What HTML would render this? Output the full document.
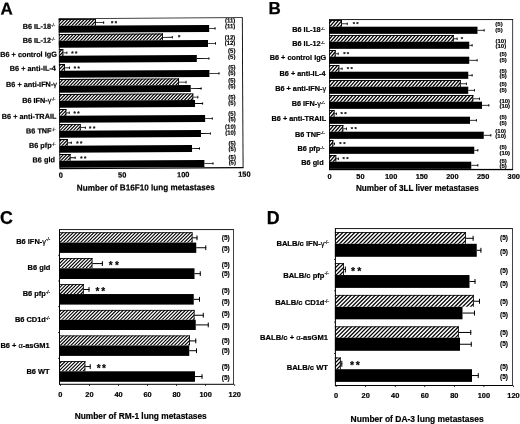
<!DOCTYPE html>
<html lang="en">
<head>
<meta charset="utf-8">
<title>Figure: tumor metastases in gene-targeted and antibody-treated mice</title>
<style>
html,body{margin:0;padding:0;background:#fff;}
body{width:520px;height:424px;overflow:hidden;}
svg{display:block;font-family:'Liberation Sans', sans-serif;font-weight:bold;fill:#000;}
text{stroke:#000;stroke-width:0.2px;}
text.n{stroke-width:0.15px;}
text.L{stroke-width:0.25px;}
text.st{stroke-width:0.15px;}
tspan.g{font-weight:normal;}
tspan.s{font-weight:normal;}
</style>
</head>
<body>
<svg width="520" height="424" viewBox="0 0 520 424">
<defs>

</defs>
<rect width="520" height="424" fill="#fff"/>
<g id="panel-A" transform="rotate(-0.3 151 93)">
<clipPath id="chA"><rect x="59.1" y="18.6" width="37.15" height="6.6"/><rect x="59.1" y="33.6" width="104.15" height="6.6"/><rect x="59.1" y="48.6" width="4.4" height="6.6"/><rect x="59.1" y="63.6" width="5.9" height="6.6"/><rect x="59.1" y="78.6" width="119.9" height="6.6"/><rect x="59.1" y="93.6" width="134.15" height="6.6"/><rect x="59.1" y="108.6" width="7.15" height="6.6"/><rect x="59.1" y="123.6" width="21.4" height="6.6"/><rect x="59.1" y="138.6" width="8.4" height="6.6"/><rect x="59.1" y="153.6" width="11.1" height="6.6"/></clipPath><path clip-path="url(#chA)" fill="none" stroke="#000" stroke-width="1.19" d="M-85.71 168.1l144.81 -149.95M-82.41 168.1l144.81 -149.95M-79.11 168.1l144.81 -149.95M-75.81 168.1l144.81 -149.95M-72.51 168.1l144.81 -149.95M-69.21 168.1l144.81 -149.95M-65.91 168.1l144.81 -149.95M-62.61 168.1l144.81 -149.95M-59.31 168.1l144.81 -149.95M-56.01 168.1l144.81 -149.95M-52.71 168.1l144.81 -149.95M-49.41 168.1l144.81 -149.95M-46.11 168.1l144.81 -149.95M-42.81 168.1l144.81 -149.95M-39.51 168.1l144.81 -149.95M-36.21 168.1l144.81 -149.95M-32.91 168.1l144.81 -149.95M-29.61 168.1l144.81 -149.95M-26.31 168.1l144.81 -149.95M-23.01 168.1l144.81 -149.95M-19.71 168.1l144.81 -149.95M-16.41 168.1l144.81 -149.95M-13.11 168.1l144.81 -149.95M-9.81 168.1l144.81 -149.95M-6.51 168.1l144.81 -149.95M-3.21 168.1l144.81 -149.95M0.09 168.1l144.81 -149.95M3.39 168.1l144.81 -149.95M6.69 168.1l144.81 -149.95M9.99 168.1l144.81 -149.95M13.29 168.1l144.81 -149.95M16.59 168.1l144.81 -149.95M19.89 168.1l144.81 -149.95M23.19 168.1l144.81 -149.95M26.49 168.1l144.81 -149.95M29.79 168.1l144.81 -149.95M33.09 168.1l144.81 -149.95M36.39 168.1l144.81 -149.95M39.69 168.1l144.81 -149.95M42.99 168.1l144.81 -149.95M46.29 168.1l144.81 -149.95M49.59 168.1l144.81 -149.95M52.89 168.1l144.81 -149.95M56.19 168.1l144.81 -149.95M59.49 168.1l144.81 -149.95M62.79 168.1l144.81 -149.95M66.09 168.1l144.81 -149.95M69.39 168.1l144.81 -149.95M72.69 168.1l144.81 -149.95M75.99 168.1l144.81 -149.95M79.29 168.1l144.81 -149.95M82.59 168.1l144.81 -149.95M85.89 168.1l144.81 -149.95M89.19 168.1l144.81 -149.95M92.49 168.1l144.81 -149.95M95.79 168.1l144.81 -149.95M99.09 168.1l144.81 -149.95M102.39 168.1l144.81 -149.95M105.69 168.1l144.81 -149.95M108.99 168.1l144.81 -149.95M112.29 168.1l144.81 -149.95M115.59 168.1l144.81 -149.95M118.89 168.1l144.81 -149.95M122.19 168.1l144.81 -149.95M125.49 168.1l144.81 -149.95M128.79 168.1l144.81 -149.95M132.09 168.1l144.81 -149.95M135.39 168.1l144.81 -149.95M138.69 168.1l144.81 -149.95M141.99 168.1l144.81 -149.95M145.29 168.1l144.81 -149.95M148.59 168.1l144.81 -149.95M151.89 168.1l144.81 -149.95M155.19 168.1l144.81 -149.95M158.49 168.1l144.81 -149.95M161.79 168.1l144.81 -149.95M165.09 168.1l144.81 -149.95M168.39 168.1l144.81 -149.95M171.69 168.1l144.81 -149.95M174.99 168.1l144.81 -149.95M178.29 168.1l144.81 -149.95M181.59 168.1l144.81 -149.95M184.89 168.1l144.81 -149.95M188.19 168.1l144.81 -149.95M191.49 168.1l144.81 -149.95"/>
<rect x="59.1" y="17.7" width="184" height="0.9"/>
<rect x="242.25" y="18.15" width="0.9" height="149.95"/>
<rect x="59.1" y="167.45" width="184" height="1.3"/>
<rect x="59.1" y="18.15" width="0.8" height="149.95"/>
<text x="0.9" y="13.7" font-size="17" class="L">A</text>
<rect x="59.1" y="18.6" width="37.15" height="0.9"/>
<rect x="95.35" y="18.6" width="0.9" height="6.6"/>
<rect x="59.1" y="25.2" width="150.4" height="7.1"/>
<rect x="96.25" y="21.95" width="8.25" height="0.8"/>
<rect x="103.7" y="21.05" width="0.8" height="2.6"/>
<rect x="209.5" y="28.35" width="6.25" height="0.8"/>
<rect x="214.95" y="27.45" width="0.8" height="2.6"/>
<text x="112.5" y="25.15" font-size="6" text-anchor="middle" class="st">*</text>
<text x="116.4" y="25.15" font-size="6" text-anchor="middle" class="st">*</text>
<text x="235.6" y="22.9" font-size="6" text-anchor="end" class="n">(11)</text>
<text x="235.6" y="28.7" font-size="6" text-anchor="end" class="n">(11)</text>
<text x="55.5" y="28.3" font-size="7.3" text-anchor="end">B6 IL-18<tspan class="s" font-size="4.38" dy="-2.19">-/-</tspan></text>
<rect x="59.1" y="33.6" width="104.15" height="0.9"/>
<rect x="162.35" y="33.6" width="0.9" height="6.6"/>
<rect x="59.1" y="40.2" width="149.15" height="7.1"/>
<rect x="163.25" y="36.95" width="9.75" height="0.8"/>
<rect x="172.2" y="36.05" width="0.8" height="2.6"/>
<rect x="208.25" y="43.35" width="8" height="0.8"/>
<rect x="215.45" y="42.45" width="0.8" height="2.6"/>
<text x="179.5" y="39.35" font-size="6" text-anchor="middle" class="st">*</text>
<text x="235.6" y="39.9" font-size="6" text-anchor="end" class="n">(12)</text>
<text x="235.6" y="45.4" font-size="6" text-anchor="end" class="n">(12)</text>
<text x="55.5" y="42.3" font-size="7.3" text-anchor="end">B6 IL-12<tspan class="s" font-size="4.38" dy="-2.19">-/-</tspan></text>
<rect x="59.1" y="48.6" width="4.4" height="0.9"/>
<rect x="62.6" y="48.6" width="0.9" height="6.6"/>
<rect x="59.1" y="55.2" width="137.9" height="7.1"/>
<rect x="63.5" y="51.95" width="4" height="0.8"/>
<rect x="66.7" y="51.05" width="0.8" height="2.6"/>
<rect x="197" y="58.35" width="12.5" height="0.8"/>
<rect x="208.7" y="57.45" width="0.8" height="2.6"/>
<text x="72.5" y="55.15" font-size="6" text-anchor="middle" class="st">*</text>
<text x="76.4" y="55.15" font-size="6" text-anchor="middle" class="st">*</text>
<text x="235.6" y="53.2" font-size="6" text-anchor="end" class="n">(5)</text>
<text x="235.6" y="59.2" font-size="6" text-anchor="end" class="n">(5)</text>
<text x="57" y="56.3" font-size="7.3" text-anchor="end">B6 + control IgG</text>
<rect x="59.1" y="63.6" width="5.9" height="0.9"/>
<rect x="64.1" y="63.6" width="0.9" height="6.6"/>
<rect x="59.1" y="70.2" width="150.4" height="7.1"/>
<rect x="65" y="66.95" width="5" height="0.8"/>
<rect x="69.2" y="66.05" width="0.8" height="2.6"/>
<rect x="209.5" y="73.35" width="10" height="0.8"/>
<rect x="218.7" y="72.45" width="0.8" height="2.6"/>
<text x="75" y="70.15" font-size="6" text-anchor="middle" class="st">*</text>
<text x="78.9" y="70.15" font-size="6" text-anchor="middle" class="st">*</text>
<text x="235.6" y="69.8" font-size="6" text-anchor="end" class="n">(5)</text>
<text x="235.6" y="75.4" font-size="6" text-anchor="end" class="n">(5)</text>
<text x="56" y="70.3" font-size="7.3" text-anchor="end">B6 + anti-IL-4</text>
<rect x="59.1" y="78.6" width="119.9" height="0.9"/>
<rect x="178.1" y="78.6" width="0.9" height="6.6"/>
<rect x="59.1" y="85.2" width="131.65" height="7.1"/>
<rect x="179" y="81.95" width="7.5" height="0.8"/>
<rect x="185.7" y="81.05" width="0.8" height="2.6"/>
<rect x="190.75" y="88.35" width="10.75" height="0.8"/>
<rect x="200.7" y="87.45" width="0.8" height="2.6"/>
<text x="235.6" y="82.9" font-size="6" text-anchor="end" class="n">(5)</text>
<text x="235.6" y="88.55" font-size="6" text-anchor="end" class="n">(5)</text>
<text x="57" y="86.3" font-size="7.3" text-anchor="end">B6 + anti-IFN-<tspan class="g">γ</tspan></text>
<rect x="59.1" y="93.6" width="134.15" height="0.9"/>
<rect x="192.35" y="93.6" width="0.9" height="6.6"/>
<rect x="59.1" y="100.2" width="135.9" height="7.1"/>
<rect x="193.25" y="96.95" width="5" height="0.8"/>
<rect x="197.45" y="96.05" width="0.8" height="2.6"/>
<rect x="195" y="103.35" width="8" height="0.8"/>
<rect x="202.2" y="102.45" width="0.8" height="2.6"/>
<text x="235.6" y="99.55" font-size="6" text-anchor="end" class="n">(5)</text>
<text x="235.6" y="105.4" font-size="6" text-anchor="end" class="n">(5)</text>
<text x="55.5" y="102.3" font-size="7.3" text-anchor="end">B6 IFN-<tspan class="g">γ</tspan><tspan class="s" font-size="4.38" dy="-2.19">-/-</tspan></text>
<rect x="59.1" y="108.6" width="7.15" height="0.9"/>
<rect x="65.35" y="108.6" width="0.9" height="6.6"/>
<rect x="59.1" y="115.2" width="145.9" height="7.1"/>
<rect x="66.25" y="111.95" width="3.25" height="0.8"/>
<rect x="68.7" y="111.05" width="0.8" height="2.6"/>
<rect x="205" y="118.35" width="7.5" height="0.8"/>
<rect x="211.7" y="117.45" width="0.8" height="2.6"/>
<text x="74.5" y="115.15" font-size="6" text-anchor="middle" class="st">*</text>
<text x="78.4" y="115.15" font-size="6" text-anchor="middle" class="st">*</text>
<text x="235.6" y="116.05" font-size="6" text-anchor="end" class="n">(5)</text>
<text x="235.6" y="121.7" font-size="6" text-anchor="end" class="n">(5)</text>
<text x="56.25" y="118.3" font-size="7.3" text-anchor="end">B6 + anti-TRAIL</text>
<rect x="59.1" y="123.6" width="21.4" height="0.9"/>
<rect x="79.6" y="123.6" width="0.9" height="6.6"/>
<rect x="59.1" y="130.2" width="141.65" height="7.1"/>
<rect x="80.5" y="126.95" width="5" height="0.8"/>
<rect x="84.7" y="126.05" width="0.8" height="2.6"/>
<rect x="200.75" y="133.35" width="9.75" height="0.8"/>
<rect x="209.7" y="132.45" width="0.8" height="2.6"/>
<text x="90" y="130.15" font-size="6" text-anchor="middle" class="st">*</text>
<text x="93.9" y="130.15" font-size="6" text-anchor="middle" class="st">*</text>
<text x="235.6" y="129.2" font-size="6" text-anchor="end" class="n">(10)</text>
<text x="235.6" y="135.05" font-size="6" text-anchor="end" class="n">(10)</text>
<text x="55.5" y="132.8" font-size="7.3" text-anchor="end">B6 TNF<tspan class="s" font-size="4.38" dy="-2.19">-/-</tspan></text>
<rect x="59.1" y="138.6" width="8.4" height="0.9"/>
<rect x="66.6" y="138.6" width="0.9" height="6.6"/>
<rect x="59.1" y="145.2" width="132.65" height="7.1"/>
<rect x="67.5" y="141.95" width="3.9" height="0.8"/>
<rect x="70.6" y="141.05" width="0.8" height="2.6"/>
<rect x="191.75" y="148.35" width="7.75" height="0.8"/>
<rect x="198.7" y="147.45" width="0.8" height="2.6"/>
<text x="77.2" y="145.15" font-size="6" text-anchor="middle" class="st">*</text>
<text x="81" y="145.15" font-size="6" text-anchor="middle" class="st">*</text>
<text x="235.6" y="145.8" font-size="6" text-anchor="end" class="n">(5)</text>
<text x="235.6" y="151.4" font-size="6" text-anchor="end" class="n">(5)</text>
<text x="55.5" y="147.3" font-size="7.3" text-anchor="end">B6 pfp<tspan class="s" font-size="4.38" dy="-2.19">-/-</tspan></text>
<rect x="59.1" y="153.6" width="11.1" height="0.9"/>
<rect x="69.3" y="153.6" width="0.9" height="6.6"/>
<rect x="59.1" y="160.2" width="144.9" height="7.1"/>
<rect x="70.2" y="156.95" width="5" height="0.8"/>
<rect x="74.4" y="156.05" width="0.8" height="2.6"/>
<rect x="204" y="163.35" width="9" height="0.8"/>
<rect x="212.2" y="162.45" width="0.8" height="2.6"/>
<text x="81" y="160.15" font-size="6" text-anchor="middle" class="st">*</text>
<text x="84.9" y="160.15" font-size="6" text-anchor="middle" class="st">*</text>
<text x="235.6" y="159.55" font-size="6" text-anchor="end" class="n">(5)</text>
<text x="235.6" y="164.9" font-size="6" text-anchor="end" class="n">(5)</text>
<text x="54.5" y="161.8" font-size="7.3" text-anchor="end">B6 gld</text>
<text x="60.4" y="177.3" font-size="7.4" text-anchor="middle">0</text>
<text x="121.7" y="177.3" font-size="7.4" text-anchor="middle">50</text>
<text x="182.8" y="177.3" font-size="7.4" text-anchor="middle">100</text>
<text x="243.9" y="177.3" font-size="7.4" text-anchor="middle">150</text>
<text x="76.3" y="190.4" font-size="8.6" textLength="138.1" lengthAdjust="spacingAndGlyphs">Number of B16F10 lung metastases</text>
</g>
<g id="panel-B">
<clipPath id="chB"><rect x="329" y="20" width="12.9" height="6.7"/><rect x="329" y="35" width="124.75" height="6.7"/><rect x="329" y="50" width="6.6" height="6.7"/><rect x="329" y="65" width="10.25" height="6.7"/><rect x="329" y="80" width="131.75" height="6.7"/><rect x="329" y="95" width="144.25" height="6.7"/><rect x="329" y="110" width="5.5" height="6.7"/><rect x="329" y="125" width="14.25" height="6.7"/><rect x="329" y="140" width="4.25" height="6.7"/><rect x="329" y="155" width="7.25" height="6.7"/></clipPath><path clip-path="url(#chB)" fill="none" stroke="#000" stroke-width="1.3" d="M198.65 169.55l130.35 -149.95M202.1 169.55l130.35 -149.95M205.55 169.55l130.35 -149.95M209 169.55l130.35 -149.95M212.45 169.55l130.35 -149.95M215.9 169.55l130.35 -149.95M219.35 169.55l130.35 -149.95M222.8 169.55l130.35 -149.95M226.25 169.55l130.35 -149.95M229.7 169.55l130.35 -149.95M233.15 169.55l130.35 -149.95M236.6 169.55l130.35 -149.95M240.05 169.55l130.35 -149.95M243.5 169.55l130.35 -149.95M246.95 169.55l130.35 -149.95M250.4 169.55l130.35 -149.95M253.85 169.55l130.35 -149.95M257.3 169.55l130.35 -149.95M260.75 169.55l130.35 -149.95M264.2 169.55l130.35 -149.95M267.65 169.55l130.35 -149.95M271.1 169.55l130.35 -149.95M274.55 169.55l130.35 -149.95M278 169.55l130.35 -149.95M281.45 169.55l130.35 -149.95M284.9 169.55l130.35 -149.95M288.35 169.55l130.35 -149.95M291.8 169.55l130.35 -149.95M295.25 169.55l130.35 -149.95M298.7 169.55l130.35 -149.95M302.15 169.55l130.35 -149.95M305.6 169.55l130.35 -149.95M309.05 169.55l130.35 -149.95M312.5 169.55l130.35 -149.95M315.95 169.55l130.35 -149.95M319.4 169.55l130.35 -149.95M322.85 169.55l130.35 -149.95M326.3 169.55l130.35 -149.95M329.75 169.55l130.35 -149.95M333.2 169.55l130.35 -149.95M336.65 169.55l130.35 -149.95M340.1 169.55l130.35 -149.95M343.55 169.55l130.35 -149.95M347 169.55l130.35 -149.95M350.45 169.55l130.35 -149.95M353.9 169.55l130.35 -149.95M357.35 169.55l130.35 -149.95M360.8 169.55l130.35 -149.95M364.25 169.55l130.35 -149.95M367.7 169.55l130.35 -149.95M371.15 169.55l130.35 -149.95M374.6 169.55l130.35 -149.95M378.05 169.55l130.35 -149.95M381.5 169.55l130.35 -149.95M384.95 169.55l130.35 -149.95M388.4 169.55l130.35 -149.95M391.85 169.55l130.35 -149.95M395.3 169.55l130.35 -149.95M398.75 169.55l130.35 -149.95M402.2 169.55l130.35 -149.95M405.65 169.55l130.35 -149.95M409.1 169.55l130.35 -149.95M412.55 169.55l130.35 -149.95M416 169.55l130.35 -149.95M419.45 169.55l130.35 -149.95M422.9 169.55l130.35 -149.95M426.35 169.55l130.35 -149.95M429.8 169.55l130.35 -149.95M433.25 169.55l130.35 -149.95M436.7 169.55l130.35 -149.95M440.15 169.55l130.35 -149.95M443.6 169.55l130.35 -149.95M447.05 169.55l130.35 -149.95M450.5 169.55l130.35 -149.95M453.95 169.55l130.35 -149.95M457.4 169.55l130.35 -149.95M460.85 169.55l130.35 -149.95M464.3 169.55l130.35 -149.95M467.75 169.55l130.35 -149.95M471.2 169.55l130.35 -149.95"/>
<rect x="329" y="19.15" width="184.1" height="0.9"/>
<rect x="512.33" y="19.6" width="0.75" height="149.95"/>
<rect x="329" y="168.9" width="184.1" height="1.3"/>
<rect x="329" y="19.6" width="0.8" height="149.95"/>
<text x="268.4" y="13.7" font-size="17" class="L">B</text>
<rect x="329" y="20" width="12.9" height="0.9"/>
<rect x="341" y="20" width="0.9" height="6.7"/>
<rect x="329" y="26.7" width="148.5" height="7.15"/>
<rect x="341.9" y="23.4" width="5.7" height="0.8"/>
<rect x="346.8" y="22.5" width="0.8" height="2.6"/>
<rect x="477.5" y="29.88" width="7" height="0.8"/>
<rect x="483.7" y="28.97" width="0.8" height="2.6"/>
<text x="353.8" y="26.1" font-size="6" text-anchor="middle" class="st">*</text>
<text x="357.4" y="26.1" font-size="6" text-anchor="middle" class="st">*</text>
<text x="495.3" y="26.3" font-size="6" class="n">(5)</text>
<text x="495.3" y="31.9" font-size="6" class="n">(5)</text>
<text x="324.8" y="31.8" font-size="7.3" text-anchor="end">B6 IL-18<tspan class="s" font-size="4.38" dy="-2.19">-/-</tspan></text>
<rect x="329" y="35" width="124.75" height="0.9"/>
<rect x="452.85" y="35" width="0.9" height="6.7"/>
<rect x="329" y="41.7" width="140.25" height="7.15"/>
<rect x="453.75" y="38.4" width="3.75" height="0.8"/>
<rect x="456.7" y="37.5" width="0.8" height="2.6"/>
<rect x="469.25" y="44.88" width="3.25" height="0.8"/>
<rect x="471.7" y="43.98" width="0.8" height="2.6"/>
<text x="462" y="41.1" font-size="6" text-anchor="middle" class="st">*</text>
<text x="495.5" y="42.5" font-size="6" class="n">(10)</text>
<text x="495.5" y="48.15" font-size="6" class="n">(10)</text>
<text x="324.8" y="45.8" font-size="7.3" text-anchor="end">B6 IL-12<tspan class="s" font-size="4.38" dy="-2.19">-/-</tspan></text>
<rect x="329" y="50" width="6.6" height="0.9"/>
<rect x="334.7" y="50" width="0.9" height="6.7"/>
<rect x="329" y="56.7" width="140.25" height="7.15"/>
<rect x="335.6" y="53.4" width="3" height="0.8"/>
<rect x="337.8" y="52.5" width="0.8" height="2.6"/>
<rect x="469.25" y="59.88" width="8.25" height="0.8"/>
<rect x="476.7" y="58.98" width="0.8" height="2.6"/>
<text x="344.3" y="56.1" font-size="6" text-anchor="middle" class="st">*</text>
<text x="347.9" y="56.1" font-size="6" text-anchor="middle" class="st">*</text>
<text x="499.4" y="56.3" font-size="6" class="n">(5)</text>
<text x="499.4" y="61.9" font-size="6" class="n">(5)</text>
<text x="326.3" y="60.2" font-size="7.3" text-anchor="end">B6 + control IgG</text>
<rect x="329" y="65" width="10.25" height="0.9"/>
<rect x="338.35" y="65" width="0.9" height="6.7"/>
<rect x="329" y="71.7" width="139.25" height="7.15"/>
<rect x="339.25" y="68.4" width="3.25" height="0.8"/>
<rect x="341.7" y="67.5" width="0.8" height="2.6"/>
<rect x="468.25" y="74.88" width="4.25" height="0.8"/>
<rect x="471.7" y="73.98" width="0.8" height="2.6"/>
<text x="348" y="71.1" font-size="6" text-anchor="middle" class="st">*</text>
<text x="351.75" y="71.1" font-size="6" text-anchor="middle" class="st">*</text>
<text x="499.4" y="72.5" font-size="6" class="n">(5)</text>
<text x="499.4" y="78.15" font-size="6" class="n">(5)</text>
<text x="325.6" y="75.7" font-size="7.3" text-anchor="end">B6 + anti-IL-4</text>
<rect x="329" y="80" width="131.75" height="0.9"/>
<rect x="459.85" y="80" width="0.9" height="6.7"/>
<rect x="329" y="86.7" width="139.25" height="7.15"/>
<rect x="460.75" y="83.4" width="6" height="0.8"/>
<rect x="465.95" y="82.5" width="0.8" height="2.6"/>
<rect x="468.25" y="89.88" width="6.75" height="0.8"/>
<rect x="474.2" y="88.98" width="0.8" height="2.6"/>
<text x="499.4" y="86.3" font-size="6" class="n">(5)</text>
<text x="499.4" y="91.9" font-size="6" class="n">(5)</text>
<text x="326.1" y="90.7" font-size="7.3" text-anchor="end">B6 + anti-IFN-<tspan class="g">γ</tspan></text>
<rect x="329" y="95" width="144.25" height="0.9"/>
<rect x="472.35" y="95" width="0.9" height="6.7"/>
<rect x="329" y="101.7" width="153" height="7.15"/>
<rect x="473.25" y="98.4" width="6.75" height="0.8"/>
<rect x="479.2" y="97.5" width="0.8" height="2.6"/>
<rect x="482" y="104.88" width="7.25" height="0.8"/>
<rect x="488.45" y="103.98" width="0.8" height="2.6"/>
<text x="499.4" y="102.5" font-size="6" class="n">(10)</text>
<text x="499.4" y="108.15" font-size="6" class="n">(10)</text>
<text x="325" y="106" font-size="7.3" text-anchor="end">B6 IFN-<tspan class="g">γ</tspan><tspan class="s" font-size="4.38" dy="-2.19">-/-</tspan></text>
<rect x="329" y="110" width="5.5" height="0.9"/>
<rect x="333.6" y="110" width="0.9" height="6.7"/>
<rect x="329" y="116.7" width="141" height="7.15"/>
<rect x="334.5" y="113.4" width="2.25" height="0.8"/>
<rect x="335.95" y="112.5" width="0.8" height="2.6"/>
<rect x="470" y="119.88" width="6.75" height="0.8"/>
<rect x="475.95" y="118.98" width="0.8" height="2.6"/>
<text x="341.75" y="116.1" font-size="6" text-anchor="middle" class="st">*</text>
<text x="345.5" y="116.1" font-size="6" text-anchor="middle" class="st">*</text>
<text x="499.4" y="119.4" font-size="6" class="n">(5)</text>
<text x="499.4" y="124.5" font-size="6" class="n">(5)</text>
<text x="326.1" y="121.3" font-size="7.3" text-anchor="end">B6 + anti-TRAIL</text>
<rect x="329" y="125" width="14.25" height="0.9"/>
<rect x="342.35" y="125" width="0.9" height="6.7"/>
<rect x="329" y="131.7" width="154.75" height="7.15"/>
<rect x="343.25" y="128.4" width="3.75" height="0.8"/>
<rect x="346.2" y="127.5" width="0.8" height="2.6"/>
<rect x="483.75" y="134.87" width="7.5" height="0.8"/>
<rect x="490.45" y="133.97" width="0.8" height="2.6"/>
<text x="352" y="131.1" font-size="6" text-anchor="middle" class="st">*</text>
<text x="355.75" y="131.1" font-size="6" text-anchor="middle" class="st">*</text>
<text x="495.3" y="132.5" font-size="6" class="n">(10)</text>
<text x="495.3" y="138.15" font-size="6" class="n">(10)</text>
<text x="324.6" y="136.6" font-size="7.3" text-anchor="end">B6 TNF<tspan class="s" font-size="4.38" dy="-2.19">-/-</tspan></text>
<rect x="329" y="140" width="4.25" height="0.9"/>
<rect x="332.35" y="140" width="0.9" height="6.7"/>
<rect x="329" y="146.7" width="145.25" height="7.15"/>
<rect x="333.25" y="143.4" width="1.75" height="0.8"/>
<rect x="334.2" y="142.5" width="0.8" height="2.6"/>
<rect x="474.25" y="149.87" width="4" height="0.8"/>
<rect x="477.45" y="148.97" width="0.8" height="2.6"/>
<text x="340.5" y="146.1" font-size="6" text-anchor="middle" class="st">*</text>
<text x="344.5" y="146.1" font-size="6" text-anchor="middle" class="st">*</text>
<text x="499.4" y="149.4" font-size="6" class="n">(5)</text>
<text x="499.4" y="155" font-size="6" class="n">(10)</text>
<text x="324.4" y="150.9" font-size="7.3" text-anchor="end">B6 pfp<tspan class="s" font-size="4.38" dy="-2.19">-/-</tspan></text>
<rect x="329" y="155" width="7.25" height="0.9"/>
<rect x="335.35" y="155" width="0.9" height="6.7"/>
<rect x="329" y="161.7" width="142.25" height="7.15"/>
<rect x="336.25" y="158.4" width="2.5" height="0.8"/>
<rect x="337.95" y="157.5" width="0.8" height="2.6"/>
<rect x="471.25" y="164.87" width="7" height="0.8"/>
<rect x="477.45" y="163.97" width="0.8" height="2.6"/>
<text x="343.75" y="161.1" font-size="6" text-anchor="middle" class="st">*</text>
<text x="347.5" y="161.1" font-size="6" text-anchor="middle" class="st">*</text>
<text x="499.4" y="162.5" font-size="6" class="n">(5)</text>
<text x="499.4" y="168.15" font-size="6" class="n">(5)</text>
<text x="323.6" y="165.3" font-size="7.3" text-anchor="end">B6 gld</text>
<text x="329.6" y="179.2" font-size="7.4" text-anchor="middle">0</text>
<text x="360.4" y="179.2" font-size="7.4" text-anchor="middle">50</text>
<text x="391.1" y="179.2" font-size="7.4" text-anchor="middle">100</text>
<text x="421.8" y="179.2" font-size="7.4" text-anchor="middle">150</text>
<text x="452.4" y="179.2" font-size="7.4" text-anchor="middle">200</text>
<text x="483.1" y="179.2" font-size="7.4" text-anchor="middle">250</text>
<text x="513.7" y="179.2" font-size="7.4" text-anchor="middle">300</text>
<text x="356" y="191.2" font-size="8.6" textLength="122.8" lengthAdjust="spacingAndGlyphs">Number of 3LL liver metastases</text>
</g>
<g id="panel-C">
<clipPath id="chC"><rect x="59" y="232.3" width="133.5" height="10.25"/><rect x="59" y="258.05" width="33.4" height="10.25"/><rect x="59" y="284.1" width="24.7" height="9.95"/><rect x="59" y="309.9" width="135.5" height="9.9"/><rect x="59" y="335.5" width="131" height="10"/><rect x="59" y="361.05" width="26.3" height="10.25"/></clipPath><path clip-path="url(#chC)" fill="none" stroke="#000" stroke-width="1.1" d="M-95.7 384.3l154.7 -154.7M-92.25 384.3l154.7 -154.7M-88.8 384.3l154.7 -154.7M-85.35 384.3l154.7 -154.7M-81.9 384.3l154.7 -154.7M-78.45 384.3l154.7 -154.7M-75 384.3l154.7 -154.7M-71.55 384.3l154.7 -154.7M-68.1 384.3l154.7 -154.7M-64.65 384.3l154.7 -154.7M-61.2 384.3l154.7 -154.7M-57.75 384.3l154.7 -154.7M-54.3 384.3l154.7 -154.7M-50.85 384.3l154.7 -154.7M-47.4 384.3l154.7 -154.7M-43.95 384.3l154.7 -154.7M-40.5 384.3l154.7 -154.7M-37.05 384.3l154.7 -154.7M-33.6 384.3l154.7 -154.7M-30.15 384.3l154.7 -154.7M-26.7 384.3l154.7 -154.7M-23.25 384.3l154.7 -154.7M-19.8 384.3l154.7 -154.7M-16.35 384.3l154.7 -154.7M-12.9 384.3l154.7 -154.7M-9.45 384.3l154.7 -154.7M-6 384.3l154.7 -154.7M-2.55 384.3l154.7 -154.7M0.9 384.3l154.7 -154.7M4.35 384.3l154.7 -154.7M7.8 384.3l154.7 -154.7M11.25 384.3l154.7 -154.7M14.7 384.3l154.7 -154.7M18.15 384.3l154.7 -154.7M21.6 384.3l154.7 -154.7M25.05 384.3l154.7 -154.7M28.5 384.3l154.7 -154.7M31.95 384.3l154.7 -154.7M35.4 384.3l154.7 -154.7M38.85 384.3l154.7 -154.7M42.3 384.3l154.7 -154.7M45.75 384.3l154.7 -154.7M49.2 384.3l154.7 -154.7M52.65 384.3l154.7 -154.7M56.1 384.3l154.7 -154.7M59.55 384.3l154.7 -154.7M63 384.3l154.7 -154.7M66.45 384.3l154.7 -154.7M69.9 384.3l154.7 -154.7M73.35 384.3l154.7 -154.7M76.8 384.3l154.7 -154.7M80.25 384.3l154.7 -154.7M83.7 384.3l154.7 -154.7M87.15 384.3l154.7 -154.7M90.6 384.3l154.7 -154.7M94.05 384.3l154.7 -154.7M97.5 384.3l154.7 -154.7M100.95 384.3l154.7 -154.7M104.4 384.3l154.7 -154.7M107.85 384.3l154.7 -154.7M111.3 384.3l154.7 -154.7M114.75 384.3l154.7 -154.7M118.2 384.3l154.7 -154.7M121.65 384.3l154.7 -154.7M125.1 384.3l154.7 -154.7M128.55 384.3l154.7 -154.7M132 384.3l154.7 -154.7M135.45 384.3l154.7 -154.7M138.9 384.3l154.7 -154.7M142.35 384.3l154.7 -154.7M145.8 384.3l154.7 -154.7M149.25 384.3l154.7 -154.7M152.7 384.3l154.7 -154.7M156.15 384.3l154.7 -154.7M159.6 384.3l154.7 -154.7M163.05 384.3l154.7 -154.7M166.5 384.3l154.7 -154.7M169.95 384.3l154.7 -154.7M173.4 384.3l154.7 -154.7M176.85 384.3l154.7 -154.7M180.3 384.3l154.7 -154.7M183.75 384.3l154.7 -154.7M187.2 384.3l154.7 -154.7M190.65 384.3l154.7 -154.7M194.1 384.3l154.7 -154.7"/>
<rect x="59" y="229.15" width="174.8" height="0.9"/>
<rect x="233.03" y="229.6" width="0.75" height="154.7"/>
<rect x="59" y="383.8" width="174.8" height="1"/>
<rect x="59" y="229.6" width="1" height="154.7"/>
<text x="0.1" y="223.8" font-size="17.8" class="L">C</text>
<rect x="59" y="232.3" width="133.5" height="0.8"/>
<rect x="191.7" y="232.3" width="0.8" height="10.25"/>
<rect x="59" y="242.55" width="137.25" height="10.35"/>
<rect x="192.5" y="237.33" width="5" height="1"/>
<rect x="196.5" y="235.43" width="1" height="4.8"/>
<rect x="196.25" y="247.23" width="10" height="1"/>
<rect x="205.25" y="245.33" width="1" height="4.8"/>
<text x="225.75" y="240.35" font-size="6.6" text-anchor="middle" class="n">(5)</text>
<text x="225.75" y="250.6" font-size="6.6" text-anchor="middle" class="n">(5)</text>
<text x="50.2" y="243.6" font-size="7.45" text-anchor="end">B6 IFN-<tspan class="g">γ</tspan><tspan class="s" font-size="4.47" dy="-2.23">-/-</tspan></text>
<rect x="59" y="258.05" width="33.4" height="0.8"/>
<rect x="91.6" y="258.05" width="0.8" height="10.25"/>
<rect x="59" y="268.3" width="135.5" height="10.7"/>
<rect x="92.4" y="263.08" width="10.45" height="1"/>
<rect x="101.85" y="261.18" width="1" height="4.8"/>
<rect x="194.5" y="273.15" width="6.25" height="1"/>
<rect x="199.75" y="271.25" width="1" height="4.8"/>
<text x="110.8" y="268.98" font-size="10" text-anchor="middle" class="st">*</text>
<text x="116.9" y="268.98" font-size="10" text-anchor="middle" class="st">*</text>
<text x="225.75" y="266.5" font-size="6.6" text-anchor="middle" class="n">(5)</text>
<text x="225.75" y="276.1" font-size="6.6" text-anchor="middle" class="n">(5)</text>
<text x="50.3" y="270" font-size="7.45" text-anchor="end">B6 gld</text>
<rect x="59" y="284.1" width="24.7" height="0.8"/>
<rect x="82.9" y="284.1" width="0.8" height="9.95"/>
<rect x="59" y="294.05" width="134.75" height="10.55"/>
<rect x="83.7" y="288.98" width="5.8" height="1"/>
<rect x="88.5" y="287.08" width="1" height="4.8"/>
<rect x="193.75" y="298.83" width="6.25" height="1"/>
<rect x="199" y="296.93" width="1" height="4.8"/>
<text x="97.5" y="294.88" font-size="10" text-anchor="middle" class="st">*</text>
<text x="103.3" y="294.88" font-size="10" text-anchor="middle" class="st">*</text>
<text x="225.75" y="293" font-size="6.6" text-anchor="middle" class="n">(5)</text>
<text x="225.75" y="304.1" font-size="6.6" text-anchor="middle" class="n">(5)</text>
<text x="50.1" y="296" font-size="7.45" text-anchor="end">B6 pfp<tspan class="s" font-size="4.47" dy="-2.23">-/-</tspan></text>
<rect x="59" y="309.9" width="135.5" height="0.8"/>
<rect x="193.7" y="309.9" width="0.8" height="9.9"/>
<rect x="59" y="319.8" width="136.75" height="10.2"/>
<rect x="194.5" y="314.75" width="9.25" height="1"/>
<rect x="202.75" y="312.85" width="1" height="4.8"/>
<rect x="195.75" y="324.4" width="13" height="1"/>
<rect x="207.75" y="322.5" width="1" height="4.8"/>
<text x="225.75" y="316.2" font-size="6.6" text-anchor="middle" class="n">(5)</text>
<text x="225.75" y="327.6" font-size="6.6" text-anchor="middle" class="n">(5)</text>
<text x="50.1" y="322" font-size="7.45" text-anchor="end">B6 CD1d<tspan class="s" font-size="4.47" dy="-2.23">-/-</tspan></text>
<rect x="59" y="335.5" width="131" height="0.8"/>
<rect x="189.2" y="335.5" width="0.8" height="10"/>
<rect x="59" y="345.5" width="130.25" height="10.4"/>
<rect x="190" y="340.4" width="6.25" height="1"/>
<rect x="195.25" y="338.5" width="1" height="4.8"/>
<rect x="189.25" y="350.2" width="7.75" height="1"/>
<rect x="196" y="348.3" width="1" height="4.8"/>
<text x="225.75" y="342.6" font-size="6.6" text-anchor="middle" class="n">(5)</text>
<text x="225.75" y="353.35" font-size="6.6" text-anchor="middle" class="n">(5)</text>
<text x="49.6" y="347.5" font-size="7.45" text-anchor="end">B6 + <tspan class="g">α</tspan>-asGM1</text>
<rect x="59" y="361.05" width="26.3" height="0.8"/>
<rect x="84.5" y="361.05" width="0.8" height="10.25"/>
<rect x="59" y="371.3" width="136" height="10.5"/>
<rect x="85.3" y="366.08" width="5.4" height="1"/>
<rect x="89.7" y="364.18" width="1" height="4.8"/>
<rect x="195" y="376.05" width="7.5" height="1"/>
<rect x="201.5" y="374.15" width="1" height="4.8"/>
<text x="98.6" y="371.98" font-size="10" text-anchor="middle" class="st">*</text>
<text x="103.9" y="371.98" font-size="10" text-anchor="middle" class="st">*</text>
<text x="225.75" y="369.35" font-size="6.6" text-anchor="middle" class="n">(5)</text>
<text x="225.75" y="379.6" font-size="6.6" text-anchor="middle" class="n">(5)</text>
<text x="49.6" y="373.5" font-size="7.45" text-anchor="end">B6 WT</text>
<text x="60.4" y="396.8" font-size="7.4" text-anchor="middle">0</text>
<rect x="60" y="384.3" width="0.8" height="1.6"/>
<text x="89.45" y="396.8" font-size="7.4" text-anchor="middle">20</text>
<rect x="89.05" y="384.3" width="0.8" height="1.6"/>
<text x="118.5" y="396.8" font-size="7.4" text-anchor="middle">40</text>
<rect x="118.1" y="384.3" width="0.8" height="1.6"/>
<text x="147.55" y="396.8" font-size="7.4" text-anchor="middle">60</text>
<rect x="147.15" y="384.3" width="0.8" height="1.6"/>
<text x="176.6" y="396.8" font-size="7.4" text-anchor="middle">80</text>
<rect x="176.2" y="384.3" width="0.8" height="1.6"/>
<text x="205.65" y="396.8" font-size="7.4" text-anchor="middle">100</text>
<rect x="205.25" y="384.3" width="0.8" height="1.6"/>
<text x="234.7" y="396.8" font-size="7.4" text-anchor="middle">120</text>
<rect x="234.3" y="384.3" width="0.8" height="1.6"/>
<rect x="58.1" y="254.85" width="0.9" height="0.8"/>
<rect x="58.1" y="280.6" width="0.9" height="0.8"/>
<rect x="58.1" y="306.35" width="0.9" height="0.8"/>
<rect x="58.1" y="332.1" width="0.9" height="0.8"/>
<rect x="58.1" y="357.85" width="0.9" height="0.8"/>
<text x="74.7" y="419.3" font-size="8.8" textLength="132" lengthAdjust="spacingAndGlyphs">Number of RM-1 lung metastases</text>
</g>
<g id="panel-D">
<clipPath id="chD"><rect x="334.9" y="232" width="130.9" height="11.8"/><rect x="334.9" y="263.15" width="9" height="11.9"/><rect x="334.9" y="294.9" width="138.85" height="11.9"/><rect x="334.9" y="326.4" width="123.85" height="11.3"/><rect x="334.9" y="357.6" width="5.8" height="11.6"/></clipPath><path clip-path="url(#chD)" fill="none" stroke="#000" stroke-width="1.26" d="M178 385.5l156.9 -156.9M181.96 385.5l156.9 -156.9M185.92 385.5l156.9 -156.9M189.88 385.5l156.9 -156.9M193.84 385.5l156.9 -156.9M197.8 385.5l156.9 -156.9M201.76 385.5l156.9 -156.9M205.72 385.5l156.9 -156.9M209.68 385.5l156.9 -156.9M213.64 385.5l156.9 -156.9M217.6 385.5l156.9 -156.9M221.56 385.5l156.9 -156.9M225.52 385.5l156.9 -156.9M229.48 385.5l156.9 -156.9M233.44 385.5l156.9 -156.9M237.4 385.5l156.9 -156.9M241.36 385.5l156.9 -156.9M245.32 385.5l156.9 -156.9M249.28 385.5l156.9 -156.9M253.24 385.5l156.9 -156.9M257.2 385.5l156.9 -156.9M261.16 385.5l156.9 -156.9M265.12 385.5l156.9 -156.9M269.08 385.5l156.9 -156.9M273.04 385.5l156.9 -156.9M277 385.5l156.9 -156.9M280.96 385.5l156.9 -156.9M284.92 385.5l156.9 -156.9M288.88 385.5l156.9 -156.9M292.84 385.5l156.9 -156.9M296.8 385.5l156.9 -156.9M300.76 385.5l156.9 -156.9M304.72 385.5l156.9 -156.9M308.68 385.5l156.9 -156.9M312.64 385.5l156.9 -156.9M316.6 385.5l156.9 -156.9M320.56 385.5l156.9 -156.9M324.52 385.5l156.9 -156.9M328.48 385.5l156.9 -156.9M332.44 385.5l156.9 -156.9M336.4 385.5l156.9 -156.9M340.36 385.5l156.9 -156.9M344.32 385.5l156.9 -156.9M348.28 385.5l156.9 -156.9M352.24 385.5l156.9 -156.9M356.2 385.5l156.9 -156.9M360.16 385.5l156.9 -156.9M364.12 385.5l156.9 -156.9M368.08 385.5l156.9 -156.9M372.04 385.5l156.9 -156.9M376 385.5l156.9 -156.9M379.96 385.5l156.9 -156.9M383.92 385.5l156.9 -156.9M387.88 385.5l156.9 -156.9M391.84 385.5l156.9 -156.9M395.8 385.5l156.9 -156.9M399.76 385.5l156.9 -156.9M403.72 385.5l156.9 -156.9M407.68 385.5l156.9 -156.9M411.64 385.5l156.9 -156.9M415.6 385.5l156.9 -156.9M419.56 385.5l156.9 -156.9M423.52 385.5l156.9 -156.9M427.48 385.5l156.9 -156.9M431.44 385.5l156.9 -156.9M435.4 385.5l156.9 -156.9M439.36 385.5l156.9 -156.9M443.32 385.5l156.9 -156.9M447.28 385.5l156.9 -156.9M451.24 385.5l156.9 -156.9M455.2 385.5l156.9 -156.9M459.16 385.5l156.9 -156.9M463.12 385.5l156.9 -156.9M467.08 385.5l156.9 -156.9M471.04 385.5l156.9 -156.9"/>
<rect x="334.9" y="228.15" width="177.9" height="0.9"/>
<rect x="512.02" y="228.6" width="0.75" height="156.9"/>
<rect x="334.9" y="385" width="177.9" height="1"/>
<rect x="334.9" y="228.6" width="1" height="156.9"/>
<text x="266.8" y="223.8" font-size="17.8" class="L">D</text>
<rect x="334.9" y="232" width="130.9" height="0.8"/>
<rect x="465" y="232" width="0.8" height="11.8"/>
<rect x="334.9" y="243.8" width="141.85" height="13"/>
<rect x="465.8" y="237.8" width="7.8" height="1"/>
<rect x="472.6" y="235.8" width="1" height="5"/>
<rect x="476.75" y="249.8" width="4.65" height="1"/>
<rect x="480.4" y="247.8" width="1" height="5"/>
<text x="504" y="239.85" font-size="6.6" text-anchor="middle" class="n">(5)</text>
<text x="504" y="254.1" font-size="6.6" text-anchor="middle" class="n">(5)</text>
<text x="328.8" y="246" font-size="7.6" text-anchor="end">BALB/c IFN-<tspan class="g">γ</tspan><tspan class="s" font-size="4.56" dy="-2.28">-/-</tspan></text>
<rect x="334.9" y="263.15" width="9" height="0.8"/>
<rect x="343.1" y="263.15" width="0.8" height="11.9"/>
<rect x="334.9" y="275.05" width="134.6" height="12.85"/>
<rect x="343.9" y="269" width="1.95" height="1"/>
<rect x="344.85" y="266.5" width="1" height="6"/>
<rect x="469.5" y="280.98" width="6" height="1"/>
<rect x="474.5" y="278.98" width="1" height="5"/>
<text x="353.15" y="274.9" font-size="10.5" text-anchor="middle" class="st">*</text>
<text x="359.3" y="274.9" font-size="10.5" text-anchor="middle" class="st">*</text>
<text x="504" y="273.35" font-size="6.6" text-anchor="middle" class="n">(5)</text>
<text x="504" y="286.1" font-size="6.6" text-anchor="middle" class="n">(5)</text>
<text x="328.8" y="277.5" font-size="7.6" text-anchor="end">BALB/c pfp<tspan class="s" font-size="4.56" dy="-2.28">-/-</tspan></text>
<rect x="334.9" y="294.9" width="138.85" height="0.8"/>
<rect x="472.95" y="294.9" width="0.8" height="11.9"/>
<rect x="334.9" y="306.8" width="127.6" height="12.5"/>
<rect x="473.75" y="300.75" width="6.25" height="1"/>
<rect x="479" y="298.75" width="1" height="5"/>
<rect x="462.5" y="312.55" width="12.5" height="1"/>
<rect x="474" y="310.55" width="1" height="5"/>
<text x="504" y="304.1" font-size="6.6" text-anchor="middle" class="n">(5)</text>
<text x="504" y="317.1" font-size="6.6" text-anchor="middle" class="n">(5)</text>
<text x="328.8" y="305" font-size="7.6" text-anchor="end">BALB/c CD1d<tspan class="s" font-size="4.56" dy="-2.28">-/-</tspan></text>
<rect x="334.9" y="326.4" width="123.85" height="0.8"/>
<rect x="457.95" y="326.4" width="0.8" height="11.3"/>
<rect x="334.9" y="337.7" width="125.1" height="13.1"/>
<rect x="458.75" y="331.95" width="12.5" height="1"/>
<rect x="470.25" y="329.95" width="1" height="5"/>
<rect x="460" y="343.75" width="11.75" height="1"/>
<rect x="470.75" y="341.75" width="1" height="5"/>
<text x="504" y="335.1" font-size="6.6" text-anchor="middle" class="n">(5)</text>
<text x="504" y="346.35" font-size="6.6" text-anchor="middle" class="n">(5)</text>
<text x="328" y="340" font-size="7.6" text-anchor="end">BALB/c + <tspan class="g">α</tspan>-asGM1</text>
<rect x="334.9" y="357.6" width="5.8" height="0.8"/>
<rect x="339.9" y="357.6" width="0.8" height="11.6"/>
<rect x="334.9" y="369.2" width="137.1" height="12.7"/>
<rect x="340.7" y="363.3" width="1.6" height="1"/>
<rect x="341.3" y="360.8" width="1" height="6"/>
<rect x="472" y="375.05" width="6.75" height="1"/>
<rect x="477.75" y="373.05" width="1" height="5"/>
<text x="352" y="369.2" font-size="10.5" text-anchor="middle" class="st">*</text>
<text x="357.9" y="369.2" font-size="10.5" text-anchor="middle" class="st">*</text>
<text x="504" y="369" font-size="6.6" text-anchor="middle" class="n">(5)</text>
<text x="504" y="379" font-size="6.6" text-anchor="middle" class="n">(5)</text>
<text x="328" y="369.5" font-size="7.6" text-anchor="end">BALB/c WT</text>
<text x="336.1" y="398" font-size="7.4" text-anchor="middle">0</text>
<rect x="335.7" y="385.5" width="0.8" height="1.6"/>
<text x="365.66" y="398" font-size="7.4" text-anchor="middle">20</text>
<rect x="365.26" y="385.5" width="0.8" height="1.6"/>
<text x="395.22" y="398" font-size="7.4" text-anchor="middle">40</text>
<rect x="394.82" y="385.5" width="0.8" height="1.6"/>
<text x="424.78" y="398" font-size="7.4" text-anchor="middle">60</text>
<rect x="424.38" y="385.5" width="0.8" height="1.6"/>
<text x="454.34" y="398" font-size="7.4" text-anchor="middle">80</text>
<rect x="453.94" y="385.5" width="0.8" height="1.6"/>
<text x="483.9" y="398" font-size="7.4" text-anchor="middle">100</text>
<rect x="483.5" y="385.5" width="0.8" height="1.6"/>
<text x="513.46" y="398" font-size="7.4" text-anchor="middle">120</text>
<rect x="513.06" y="385.5" width="0.8" height="1.6"/>
<rect x="334" y="259.1" width="0.9" height="0.8"/>
<rect x="334" y="290.4" width="0.9" height="0.8"/>
<rect x="334" y="321.7" width="0.9" height="0.8"/>
<rect x="334" y="353" width="0.9" height="0.8"/>
<text x="350.6" y="421.7" font-size="9" textLength="133.1" lengthAdjust="spacingAndGlyphs">Number of DA-3 lung metastases</text>
</g>
</svg>
</body>
</html>
